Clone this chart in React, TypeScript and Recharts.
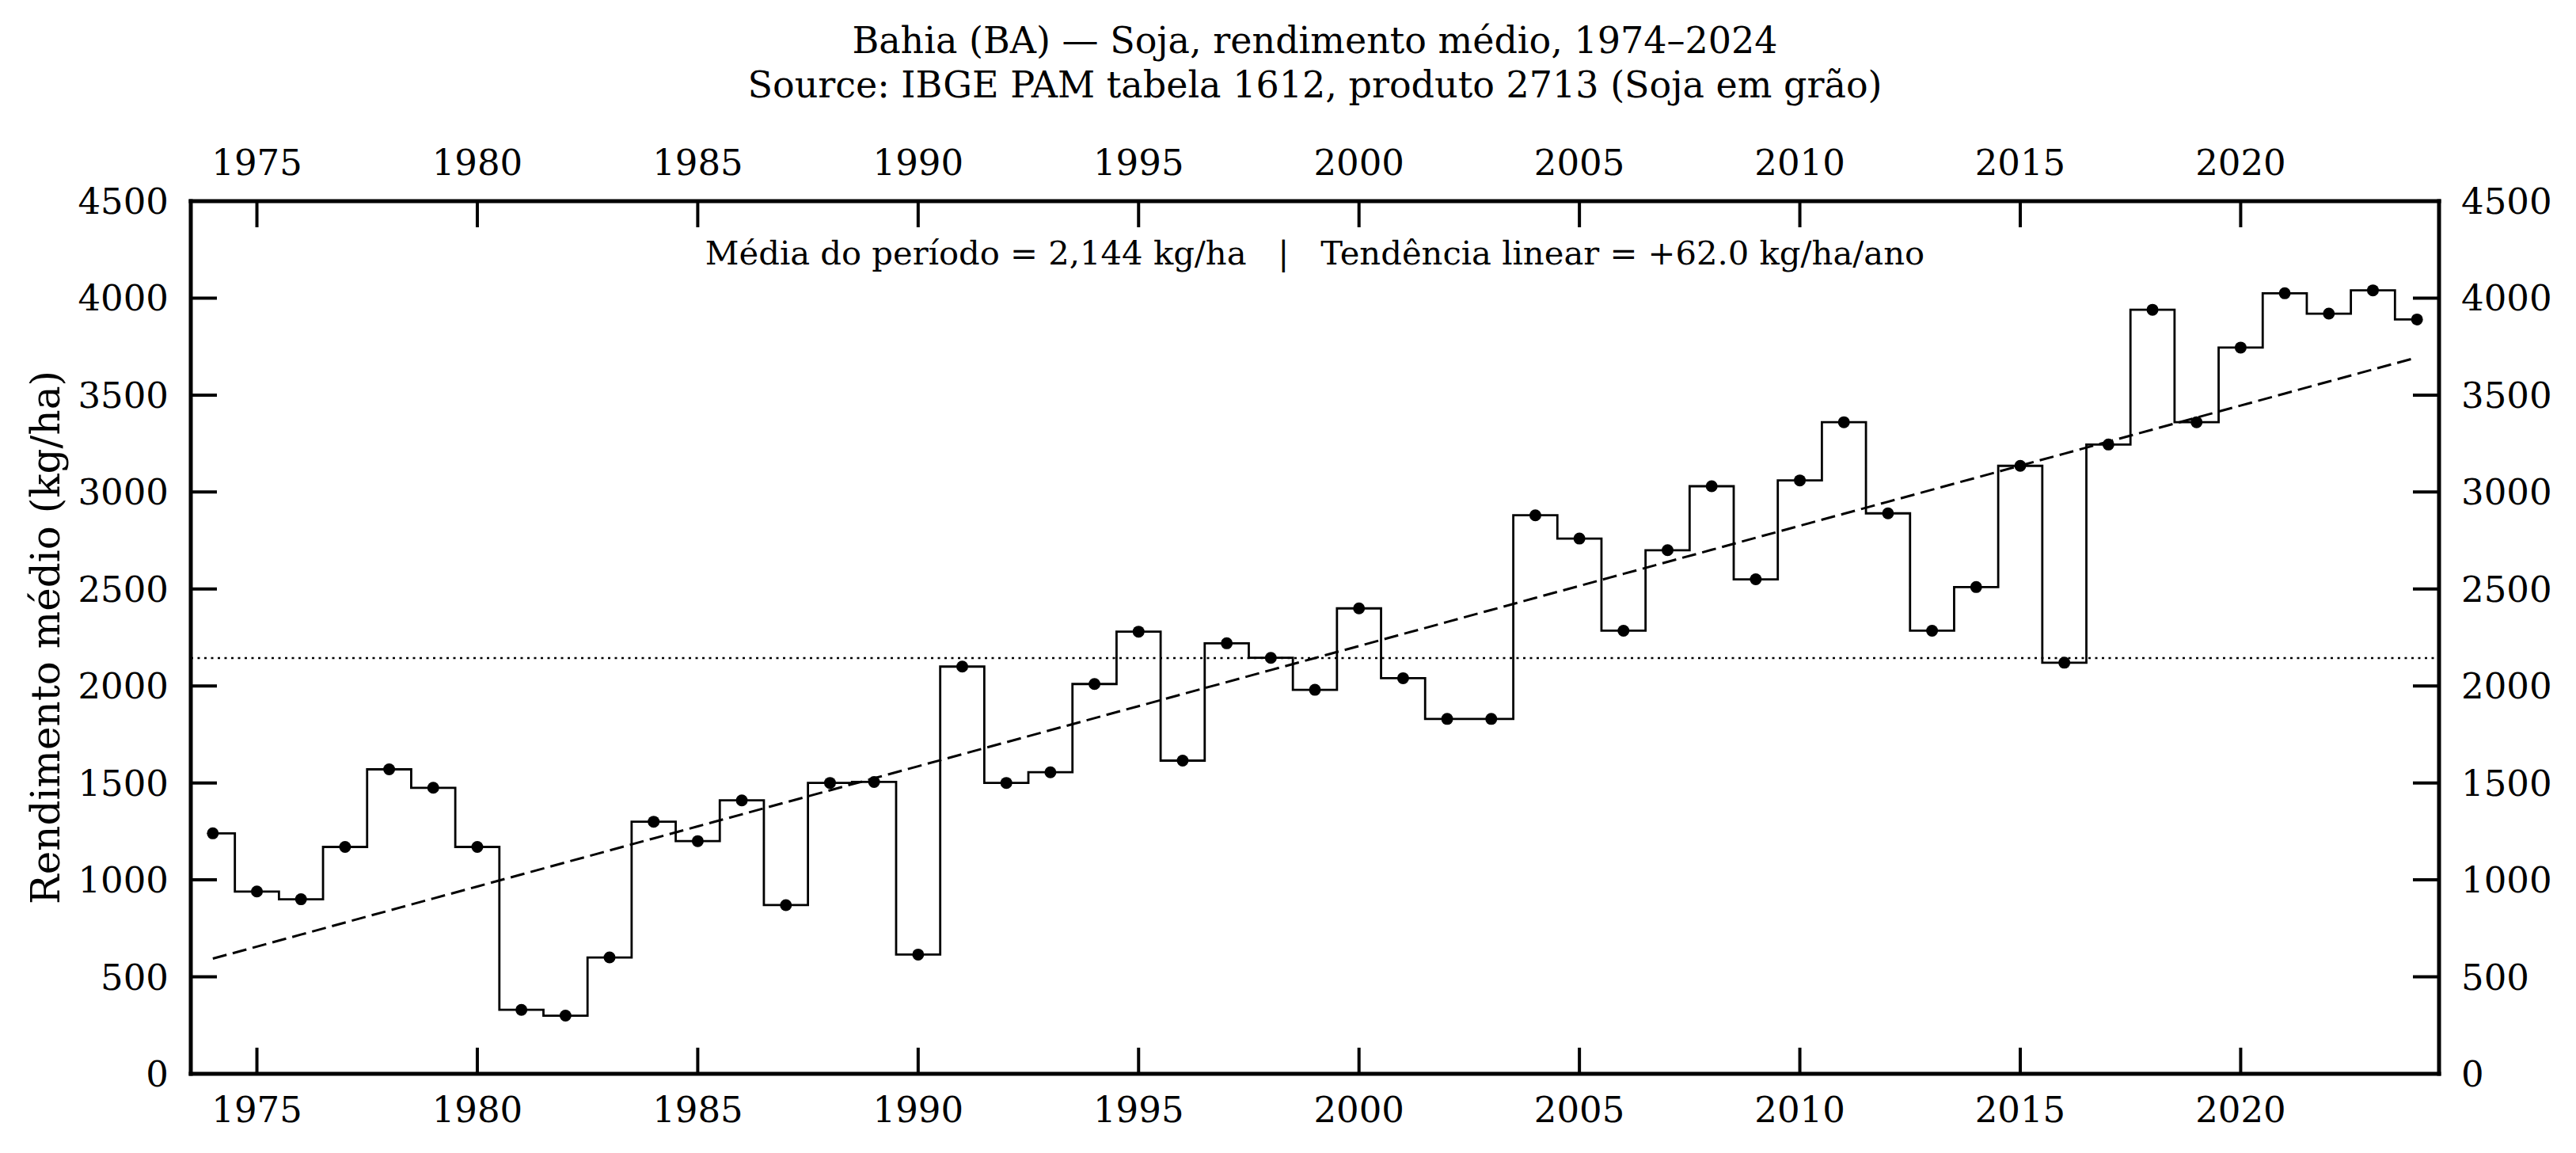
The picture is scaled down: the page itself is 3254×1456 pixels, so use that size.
import { ComposedChart, Line, ReferenceLine, XAxis, YAxis } from 'recharts'

// Soja em grão, Bahia — rendimento médio (kg/ha) por ano
const YEARS = [
  1974, 1975, 1976, 1977, 1978, 1979, 1980, 1981, 1982, 1983,
  1984, 1985, 1986, 1987, 1988, 1989, 1990, 1991, 1992, 1993,
  1994, 1995, 1996, 1997, 1998, 1999, 2000, 2001, 2002, 2003,
  2004, 2005, 2006, 2007, 2008, 2009, 2010, 2011, 2012, 2013,
  2014, 2015, 2016, 2017, 2018, 2019, 2020, 2021, 2022, 2023, 2024,
]
const YIELD_KG_HA = [
  1240, 940, 900, 1170, 1570, 1475, 1170, 330, 300, 600,
  1300, 1200, 1410, 870, 1500, 1505, 615, 2100, 1500, 1555,
  2010, 2280, 1615, 2220, 2145, 1980, 2400, 2040, 1830, 1830,
  2880, 2760, 2285, 2700, 3030, 2550, 3060, 3360, 2890, 2285,
  2510, 3135, 2120, 3245, 3940, 3360, 3745, 4025, 3920, 4040, 3890,
]
const YEAR_TICKS = [1975, 1980, 1985, 1990, 1995, 2000, 2005, 2010, 2015, 2020]
const YIELD_TICKS = [0, 500, 1000, 1500, 2000, 2500, 3000, 3500, 4000, 4500]

const MEAN_KG_HA = 2144
const TREND_KG_HA_YEAR = 62.0
const MID_YEAR = (YEARS[0] + YEARS[YEARS.length - 1]) / 2

const W = 3254
const H = 1456
const FONT = 'DejaVu Serif'
const TICK_LEN = 33
const TICK_W = 4
const TICK_FS = 45

// trend line passes through (mid year, mean) with the stated slope
const rows = YEARS.map((year, i) => ({
  year,
  value: YIELD_KG_HA[i],
  trend: MEAN_KG_HA + TREND_KG_HA_YEAR * (year - MID_YEAR),
}))

type TickProps = { x?: number; y?: number; payload?: { value: number } }

// ticks point inward, labels sit outside the frame
function BottomTick({ x = 0, y = 0, payload }: TickProps) {
  return (
    <g>
      <line x1={x} y1={y} x2={x} y2={y - TICK_LEN} stroke="#000" strokeWidth={TICK_W} />
      <text x={x} y={y + 61} textAnchor="middle" fontSize={TICK_FS} fontFamily={FONT} fill="#000">
        {payload?.value}
      </text>
    </g>
  )
}

function TopTick({ x = 0, y = 0, payload }: TickProps) {
  return (
    <g>
      <line x1={x} y1={y} x2={x} y2={y + TICK_LEN} stroke="#000" strokeWidth={TICK_W} />
      <text x={x} y={y - 33} textAnchor="middle" fontSize={TICK_FS} fontFamily={FONT} fill="#000">
        {payload?.value}
      </text>
    </g>
  )
}

function LeftTick({ x = 0, y = 0, payload }: TickProps) {
  return (
    <g>
      <line x1={x} y1={y} x2={x + TICK_LEN} y2={y} stroke="#000" strokeWidth={TICK_W} />
      <text x={x - 28} y={y + 16} textAnchor="end" fontSize={TICK_FS} fontFamily={FONT} fill="#000">
        {payload?.value}
      </text>
    </g>
  )
}

function RightTick({ x = 0, y = 0, payload }: TickProps) {
  return (
    <g>
      <line x1={x} y1={y} x2={x - TICK_LEN} y2={y} stroke="#000" strokeWidth={TICK_W} />
      <text x={x + 28} y={y + 16} textAnchor="start" fontSize={TICK_FS} fontFamily={FONT} fill="#000">
        {payload?.value}
      </text>
    </g>
  )
}

const spine = { stroke: '#000', strokeWidth: 5, strokeLinecap: 'square' as const }

export default function App() {
  const plotCx = (241 + 3081) / 2
  const note =
    `Média do período = ${MEAN_KG_HA.toLocaleString('en-US')} kg/ha   |   ` +
    `Tendência linear = +${TREND_KG_HA_YEAR.toFixed(1)} kg/ha/ano`

  return (
    <div style={{ position: 'absolute', left: 0, top: 0, width: W, height: H, background: '#fff' }}>
      <ComposedChart
        width={W}
        height={H}
        data={rows}
        margin={{ top: 214, right: 113, bottom: 60, left: 181 }}
      >
        <XAxis
          dataKey="year"
          type="number"
          domain={[1973.5, 2024.5]}
          ticks={YEAR_TICKS}
          interval={0}
          height={40}
          tickSize={0}
          tickMargin={0}
          tickLine={false}
          axisLine={spine}
          tick={(p: TickProps) => <BottomTick {...p} />}
        />
        <XAxis
          xAxisId="top"
          orientation="top"
          dataKey="year"
          type="number"
          domain={[1973.5, 2024.5]}
          ticks={YEAR_TICKS}
          interval={0}
          height={40}
          tickSize={0}
          tickMargin={0}
          tickLine={false}
          axisLine={spine}
          allowDataOverflow
          tick={(p: TickProps) => <TopTick {...p} />}
        />
        <YAxis
          type="number"
          domain={[0, 4500]}
          ticks={YIELD_TICKS}
          interval={0}
          width={60}
          tickSize={0}
          tickMargin={0}
          tickLine={false}
          axisLine={spine}
          allowDataOverflow
          tick={(p: TickProps) => <LeftTick {...p} />}
        />
        <YAxis
          yAxisId="right"
          orientation="right"
          type="number"
          domain={[0, 4500]}
          ticks={YIELD_TICKS}
          interval={0}
          width={60}
          tickSize={0}
          tickMargin={0}
          tickLine={false}
          axisLine={spine}
          allowDataOverflow
          tick={(p: TickProps) => <RightTick {...p} />}
        />
        <ReferenceLine y={MEAN_KG_HA} stroke="#000" strokeWidth={2.5} strokeDasharray="3 5.5" />
        <Line
          type="step"
          dataKey="value"
          stroke="#000"
          strokeWidth={2.8}
          dot={{ r: 7.5, fill: '#000', stroke: 'none' }}
          activeDot={false}
          isAnimationActive={false}
        />
        <Line
          type="linear"
          dataKey="trend"
          stroke="#000"
          strokeWidth={3}
          strokeDasharray="18 8"
          dot={false}
          activeDot={false}
          isAnimationActive={false}
        />
      </ComposedChart>

      <svg
        width={W}
        height={H}
        style={{ position: 'absolute', left: 0, top: 0, pointerEvents: 'none' }}
        fontFamily={FONT}
      >
        <text x={plotCx} y={67} textAnchor="middle" fontSize={46} fill="#000">
          Bahia (BA) — Soja, rendimento médio, 1974–2024
        </text>
        <text x={plotCx} y={123} textAnchor="middle" fontSize={46} fill="#000">
          Source: IBGE PAM tabela 1612, produto 2713 (Soja em grão)
        </text>
        <text x={plotCx} y={334} textAnchor="middle" fontSize={41.7} fill="#000" style={{ whiteSpace: 'pre' }}>
          {note}
        </text>
        <text transform="translate(75,805) rotate(-90)" textAnchor="middle" fontSize={50} fill="#000">
          Rendimento médio (kg/ha)
        </text>
      </svg>
    </div>
  )
}
